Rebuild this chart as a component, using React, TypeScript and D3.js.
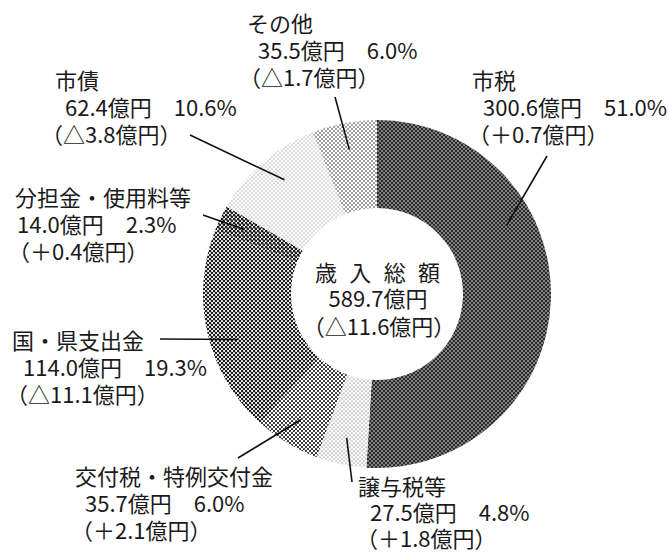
import React from "react";
import * as d3 from "d3";

// 歳入の内訳（億円）
const categories = ["市税", "譲与税等", "交付税・特例交付金", "国・県支出金", "分担金・使用料等", "市債", "その他"];
const amounts = [300.6, 27.5, 35.7, 114.0, 14.0, 62.4, 35.5];
const shares = ["51.0", "4.8", "6.0", "19.3", "2.3", "10.6", "6.0"];
const changes = ["＋0.7", "＋1.8", "＋2.1", "△11.1", "＋0.4", "△3.8", "△1.7"];
const totalLabel = ["歳入総額", "589.7億円", "（△11.6億円）"];

const width = 668,
	height = 552;
const cx = 377,
	cy = 294,
	outerR = 174,
	innerR = 86;

// halftone look: background + dot colour + dot radius
const patterns = [
	{ bg: "#2b2b2b", dot: "#ffffff", r: 0.75 },
	{ bg: "#ffffff", dot: "#333333", r: 0.55 },
	{ bg: "#ffffff", dot: "#222222", r: 1.05 },
	{ bg: "#ffffff", dot: "#1e1e1e", r: 1.3 },
	{ bg: "#ffffff", dot: "#1a1a1a", r: 1.4 },
	{ bg: "#ffffff", dot: "#444444", r: 0.5 },
	{ bg: "#ffffff", dot: "#2a2a2a", r: 0.8 },
];

// label placement: first line x/baseline, x of line 2 and 3, line gap
const labelPos = [
	{ x: 472, y: 89, x2: 483, x3: 468, gap: 27 },
	{ x: 358, y: 495, x2: 370, x3: 356, gap: 26 },
	{ x: 75, y: 485, x2: 85, x3: 71, gap: 27 },
	{ x: 12, y: 349, x2: 23, x3: 6, gap: 27 },
	{ x: 15, y: 206, x2: 17, x3: 8, gap: 27 },
	{ x: 55, y: 89, x2: 65, x3: 41, gap: 27 },
	{ x: 247, y: 32, x2: 258, x3: 239, gap: 27 },
];
// leader line: outer end and angle override (degrees) on the ring
const leaders = [
	{ x: 547, y: 156, angle: 62 },
	{ x: 352, y: 482, angle: null },
	{ x: 238, y: 458, angle: null },
	{ x: 160, y: 339, angle: 252 },
	{ x: 203, y: 215, angle: null },
	{ x: 190, y: 135, angle: 321 },
	{ x: 335, y: 97, angle: null },
];

const font = "'Noto Sans CJK JP', 'Noto Sans', sans-serif";

export default function App() {
	const pie = d3
		.pie<number>()
		.sort(null)
		.value((d) => d);
	const arcs = pie(amounts);
	const arc = d3
		.arc<d3.PieArcDatum<number>>()
		.innerRadius(innerR)
		.outerRadius(outerR);

	const leaderR = 147;

	return (
		<svg width={width} height={height} style={{ position: "absolute", left: 0, top: 0, background: "#fff" }}>
			<defs>
				{patterns.map((p, i) => (
					<pattern key={i} id={"pat" + i} patternUnits="userSpaceOnUse" width={4} height={4}>
						<rect width={4} height={4} fill={p.bg} />
						<circle cx={1} cy={1} r={p.r} fill={p.dot} />
						<circle cx={3} cy={3} r={p.r} fill={p.dot} />
					</pattern>
				))}
			</defs>
			<g transform={`translate(${cx},${cy})`}>
				{arcs.map((a, i) => (
					<path key={i} d={arc(a) || ""} fill={`url(#pat${i})`} />
				))}
			</g>
			{arcs.map((a, i) => {
				const L = leaders[i];
				const ang =
					L.angle != null ? (L.angle * Math.PI) / 180 : (a.startAngle + a.endAngle) / 2;
				const ex = cx + leaderR * Math.sin(ang);
				const ey = cy - leaderR * Math.cos(ang);
				return <line key={i} x1={L.x} y1={L.y} x2={ex} y2={ey} stroke="#111" strokeWidth={1.6} />;
			})}
			<g fontFamily={font} fontSize={22} fill="#1a1a1a">
				{categories.map((c, i) => {
					const p = labelPos[i];
					return (
						<g key={c}>
							<text x={p.x} y={p.y}>
								{c}
							</text>
							<text x={p.x2} y={p.y + p.gap}>
								{amounts[i].toFixed(1) + "億円　" + shares[i] + "%"}
							</text>
							<text x={p.x3} y={p.y + p.gap * 2}>
								{"（" + changes[i] + "億円）"}
							</text>
						</g>
					);
				})}
				<text x={315} y={281} textLength={125} lengthAdjust="spacing">
					{totalLabel[0]}
				</text>
				<text x={378} y={307} textAnchor="middle">
					{totalLabel[1]}
				</text>
				<text x={379} y={335} textAnchor="middle">
					{totalLabel[2]}
				</text>
			</g>
		</svg>
	);
}
